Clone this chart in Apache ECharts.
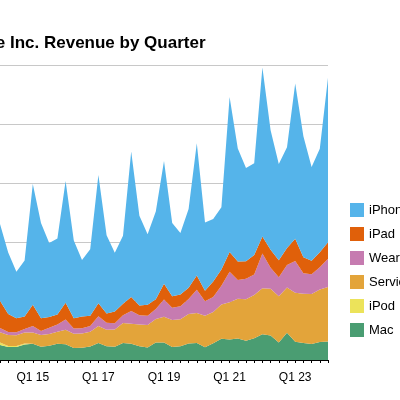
<!DOCTYPE html><html><head><meta charset="utf-8"><script src="https://cdn.jsdelivr.net/npm/echarts@6/dist/echarts.min.js"></script></head><body style="margin:0"><div id="c" style="width:400px;height:400px"></div><script>
const quarters=[];for(let y=14;y<=24;y++){for(let q=1;q<=4;q++){if(y===24&&q>1)break;quarters.push('Q'+q+' '+y);}}
const shownLabels=['Q1 15','Q1 17','Q1 19','Q1 21','Q1 23'];
const mac=[6.4,5.5,5.5,6.6,6.9,5.6,6.0,6.9,6.7,5.1,5.2,5.7,7.2,5.8,5.6,7.2,6.9,5.8,5.3,7.4,7.4,5.5,5.8,7.0,7.2,5.4,7.1,9.0,8.7,9.1,8.2,9.2,10.9,10.4,7.4,11.5,7.7,7.2,6.8,7.6,7.8];
const ipod=[1.0,0.46,0.44,0.41,0,0,0,0,0,0,0,0,0,0,0,0,0,0,0,0,0,0,0,0,0,0,0,0,0,0,0,0,0,0,0,0,0,0,0,0,0];
const services=[4.4,4.6,4.5,4.6,4.8,5.0,5.0,5.1,6.1,6.0,6.0,6.3,7.2,7.0,7.3,8.5,8.5,9.2,9.5,10.0,10.9,11.5,11.5,12.5,12.7,13.3,13.2,14.5,15.8,16.9,17.5,18.3,19.5,19.8,19.6,19.2,20.8,20.9,21.2,22.3,23.1];
const wearables=[1.8,1.3,1.3,1.5,2.7,1.7,2.7,3.0,4.4,2.2,2.3,2.4,4.1,3.0,2.7,3.3,5.4,4.0,3.9,4.2,7.3,5.1,5.5,6.4,9.9,6.2,6.4,8.0,12.9,7.9,8.7,8.7,14.7,8.9,8.1,9.6,13.5,8.7,8.3,9.4,12.0];
const ipad=[11.5,7.6,5.9,5.3,9.0,5.4,4.5,4.3,7.1,4.4,4.9,4.3,5.5,3.9,5.0,4.8,5.9,4.1,4.7,4.1,6.7,4.9,5.0,4.7,6.0,4.4,6.6,6.8,8.4,7.8,7.4,8.3,7.2,7.6,7.2,7.2,9.4,6.7,5.8,6.4,7.0];
const iphone=[32.5,26.1,19.8,23.7,51.2,40.3,31.4,32.2,51.6,32.9,24.0,28.2,54.4,33.2,24.8,28.8,61.6,38.0,29.9,37.2,52.0,31.0,26.0,33.4,56.0,29.0,26.4,26.4,65.6,47.9,39.6,38.9,71.6,50.6,40.7,42.6,65.8,51.3,39.7,43.8,69.7];
const seriesDefs=[['Mac',mac,'#4a9d72'],['iPod',ipod,'#ece35a'],['Services',services,'#e3a43a'],['Wearables',wearables,'#c67bb0'],['iPad',ipad,'#e0600a'],['iPhone',iphone,'#55b4ea']];
const ch=echarts.init(document.getElementById('c'));
ch.setOption({animation:false,
title:{text:'Apple Inc. Revenue by Quarter',left:-47,top:30,textStyle:{fontFamily:'Liberation Sans',fontWeight:'bold',fontSize:17,color:'#000'}},
legend:{orient:'vertical',left:345,top:198,itemWidth:14,itemHeight:14,itemGap:10,icon:'rect',data:['iPhone','iPad','Wearables','Services','iPod','Mac'],textStyle:{fontFamily:'Liberation Sans',fontSize:13,color:'#000'}},
grid:{left:0,right:72,top:65,bottom:40},
xAxis:{type:'category',boundaryGap:false,data:quarters,axisLine:{lineStyle:{color:'#000'}},axisTick:{interval:0,length:3,lineStyle:{color:'#000'}},axisLabel:{interval:(i,v)=>shownLabels.includes(v),color:'#000',fontFamily:'Liberation Sans',fontSize:12,margin:12},splitLine:{show:false}},
yAxis:{type:'value',min:0,max:125,interval:25,axisLabel:{show:false},axisLine:{show:false},axisTick:{show:false},splitLine:{lineStyle:{color:'#c8c8c8'}}},
series:seriesDefs.map(([n,d,c])=>({name:n,type:'line',stack:'t',data:d,symbol:'none',lineStyle:{width:0},areaStyle:{color:c,opacity:1},itemStyle:{color:c}}))});
</script></body></html>
